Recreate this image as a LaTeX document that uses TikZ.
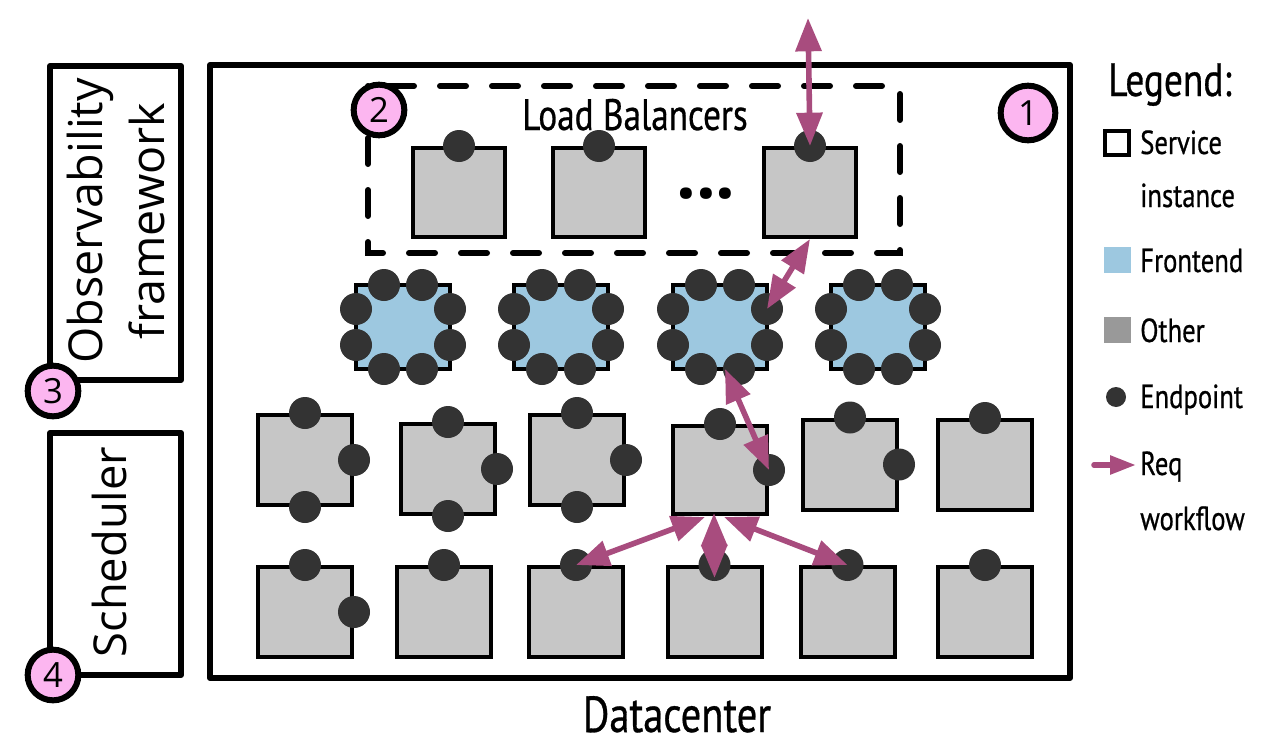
\documentclass[tikz,border=0pt]{standalone}
\usepackage{fontspec}
\usetikzlibrary{arrows.meta}
\setmainfont{PT Sans}
\newfontfamily\cond[FakeStretch=0.8,FakeBold=0.6]{PT Sans}
\newfontfamily\osans{Open Sans}
\definecolor{boxgray}{RGB}{198,198,198}
\definecolor{othergray}{RGB}{153,153,153}
\definecolor{feblue}{RGB}{157,200,224}
\definecolor{dotc}{RGB}{51,51,51}
\definecolor{reqc}{RGB}{168,76,126}
\definecolor{pinkc}{RGB}{252,182,240}
\tikzset{
  frame/.style={draw=black, line width=4.5pt, line join=round},
  svc/.style={draw=black, line width=3pt, fill=boxgray, minimum width=70.5pt, minimum height=67.5pt, inner sep=0pt},
  lbsvc/.style={svc, minimum width=69pt, minimum height=66.75pt},
  fe/.style={svc, fill=feblue, minimum height=63pt},
  ep/.style={circle, fill=dotc, minimum size=24pt, inner sep=0pt},
  num/.style={circle, draw=black, line width=4.5pt, fill=pinkc, minimum size=38pt, inner sep=0pt, font=\osans\fontsize{26}{26}\selectfont},
  req/.style={draw=reqc, line width=4.2pt, {Triangle[length=25pt,width=19pt]}-{Triangle[length=25pt,width=19pt]}},
  lbl/.style={font=\cond\fontsize{25}{30}\selectfont, inner sep=0pt, anchor=base west},
}
\begin{document}
\begin{tikzpicture}[x=0.75pt, y=-0.75pt]
\useasboundingbox (0,0) rectangle (1282,746);

% frames
\draw[frame] (210,65) rectangle (1070,678);
\draw[frame] (50,66) rectangle (181,380);
\draw[frame] (50,433) rectangle (181,675);
\draw[draw=black, line width=4.5pt, line cap=round, dash pattern=on 19.5pt off 19.5pt] (368,86) rectangle (900,253);

% texts of frames
\node[font=\cond\fontsize{38}{40}\selectfont, anchor=base, inner sep=0pt] (dctext) at (677,732) {Datacenter};
\node[font=\cond\fontsize{33}{35}\selectfont, anchor=base, inner sep=0pt] (lbtext) at (635,130) {Load Balancers};
\node[rotate=90, font=\osans\fontsize{35}{47}\selectfont, align=center, inner sep=0pt] (obs) at (116,221) {Observability\\framework};
\node[rotate=90, font=\osans\fontsize{34}{40}\selectfont, inner sep=0pt] (sch) at (109,552) {Scheduler};

% load balancers
\node[lbsvc] (l1) at (459,192.5) {};
\node[lbsvc] (l2) at (599,192.5) {};
\node[lbsvc] (l3) at (810,192.5) {};
\node[ep] (l1n) at (l1.north) {};
\node[ep] (l2n) at (l2.north) {};
\node[ep] (l3n) at (l3.north) {};
\node[font=\osans\bfseries\fontsize{52}{52}\selectfont, anchor=base, inner sep=0pt] (ell) at (706,198) {...};

% frontends
\foreach \i/\cx in {1/403,2/561,3/720,4/878} {
  \node[fe] (f\i) at (\cx,327) {};
  \foreach \j/\dx/\dy in {a/-19/-42, b/19/-42, c/47/-18, d/47/18, e/19/42, f/-19/42, g/-47/18, h/-47/-18}
    \node[ep] (f\i\j) at (\cx+\dx, 327+\dy) {};
}

% row 3
\node[svc] (r31) at (305,460) {};
\node[svc] (r32) at (448,469) {};
\node[svc] (r33) at (577,460) {};
\node[svc, minimum height=66pt] (r34) at (720,470) {};
\node[svc] (r35) at (850,464.5) {};
\node[svc] (r36) at (985,465) {};
\foreach \n in {r31,r32,r33} {
  \node[ep] (\n n) at (\n.north) {};
  \node[ep] (\n e) at (\n.east) {};
  \node[ep] (\n s) at (\n.south) {};
}
\foreach \n in {r34,r35} {
  \node[ep] (\n n) at (\n.north) {};
  \node[ep] (\n e) at (\n.east) {};
}
\node[ep] (r36n) at (r36.north) {};

% row 4
\node[svc] (r41) at (305,612) {};
\node[svc] (r42) at (444,612) {};
\node[svc] (r43) at (576,612) {};
\node[svc] (r44) at (714.5,612) {};
\node[svc] (r45) at (847.5,612) {};
\node[svc] (r46) at (985,612) {};
\foreach \n in {r41,r42,r43,r44,r45,r46}
  \node[ep] (\n n) at (\n.north) {};
\node[ep] (r41e) at (r41.east) {};

% request workflow arrows
\coordinate (topend) at (808,18);
\coordinate (fe3out) at (725,369);
\coordinate (apL) at (705,517);
\coordinate (apC) at (714,513);
\coordinate (apR) at (724,517);
\coordinate (c44) at (714.5,578);
\draw[req] (topend) -- (l3n.center);
\draw[req] (l3.south) -- (f3c.center);
\draw[req] (fe3out) -- (r34e.center);
\draw[req] (apL) -- (r43n.center);
\draw[req] (apC) -- (c44);
\draw[req] (apR) -- (r45n.center);

% numbered circles
\node[num, minimum size=41pt] (n1) at (1028,113) {1};
\node[num] (n2) at (379,110) {2};
\node[num] (n3) at (53,391) {3};
\node[num] (n4) at (53,675) {4};

% legend
\node[font=\cond\fontsize{35}{38}\selectfont, anchor=base west, inner sep=0pt] (leg) at (1108,96) {Legend:};
\node[draw=black, line width=3pt, fill=white, minimum size=18pt, inner sep=0pt] (lsvc) at (1117,143) {};
\node[lbl] (tsvc1) at (1140,154) {Service};
\node[lbl] (tsvc2) at (1140,207) {instance};
\node[fill=feblue, minimum width=20pt, minimum height=19.5pt, inner sep=0pt] (lfe) at (1117.5,260) {};
\node[lbl] (tfe) at (1140,272) {Frontend};
\node[fill=othergray, minimum width=20pt, minimum height=19.5pt, inner sep=0pt] (loth) at (1117.5,329.5) {};
\node[lbl] (toth) at (1140,342) {Other};
\node[circle, fill=dotc, minimum size=15pt, inner sep=0pt] (lep) at (1116,397) {};
\node[lbl] (tep) at (1140,408) {Endpoint};
\coordinate (lreqa) at (1094,465);
\coordinate (lreqb) at (1136,465);
\draw[draw=reqc, line width=4.2pt, line cap=round, -{Triangle[length=19.5pt,width=13.5pt]}] (lreqa) -- (lreqb);
\node[lbl] (treq1) at (1140,475) {Req};
\node[lbl] (treq2) at (1140,530) {workflow};
\end{tikzpicture}
\end{document}
